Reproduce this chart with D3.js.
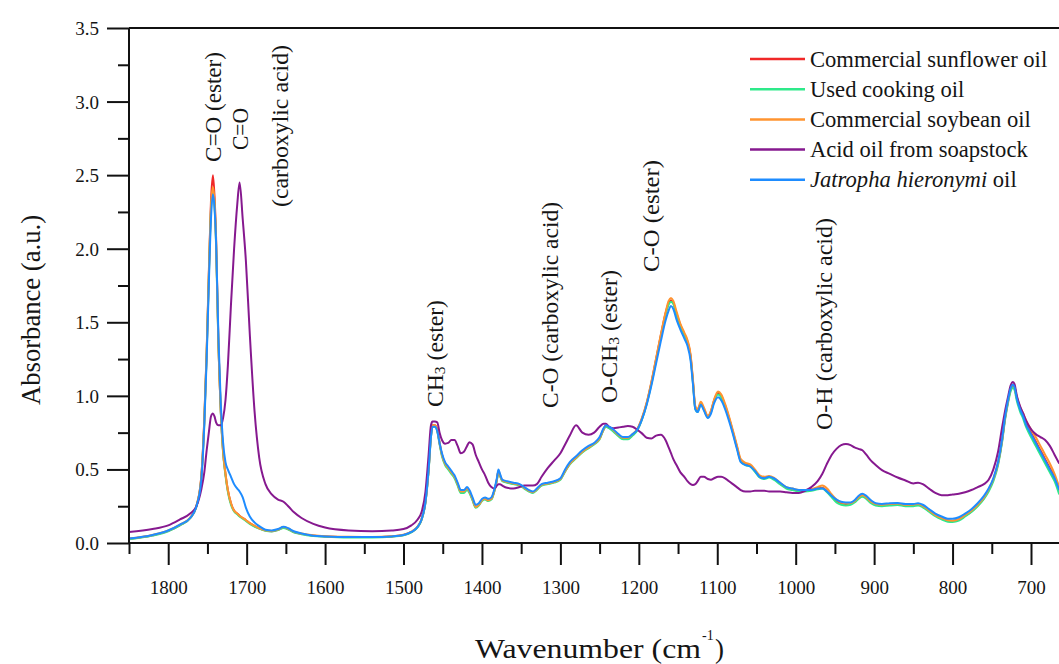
<!DOCTYPE html>
<html><head><meta charset="utf-8">
<script src="https://cdn.jsdelivr.net/npm/d3@7"></script>
<style>
body{margin:0;background:#fff}
svg text{font-family:"Liberation Serif","Times New Roman",serif;fill:#151515}
</style>
</head><body><svg id="chart" width="1059" height="664" font-family="Liberation Serif"></svg>
<script>
// ---------- DATA ----------
const wavenumbers = [
1850,1820,1800,1785,1772,1764,1758,1754,1751,1748,
1745.5,1743,1741,1739,1736,1733,1730,1727,1724,1720,
1716,1712,1709,1705,1701,1696,1690,1684,1676,1668,
1660,1653,1647,1640,1630,1615,1600,1570,1540,1515,
1500,1490,1482,1477,1472,1468,1465,1463,1460,1457,
1454,1451,1447,1443,1439,1435,1431,1427,1423,1419,
1416,1412,1408,1404,1400,1396,1392,1388,1384,1381,
1379,1377,1374,1368,1360,1352,1346,1340,1335,1330,
1324,1316,1308,1300,1294,1288,1280,1272,1264,1257,
1250,1245,1242,1238,1232,1226,1220,1214,1208,1202,
1196,1190,1184,1178,1172,1166,1162,1159,1156,1152,
1147,1142,1138,1134,1131,1128,1125,1121,1117,1112,
1108,1104,1099,1095,1090,1085,1080,1075,1070,1064,
1058,1052,1046,1040,1034,1028,1020,1012,1004,996,
988,980,972,966,960,954,948,942,936,930,
925,920,915,910,904,898,890,880,870,860,
850,844,838,830,822,814,806,800,792,784,
776,768,760,754,748,742,737,733,729,726,
723,721,718,714,710,706,702,698,694,688,
682,676,670,664];

const sunflower = [
.028,.052,.082,.122,.170,.250,.44,.84,1.30,1.88,
2.32,2.50,2.36,2.08,1.36,.90,.62,.47,.36,.27,
.22,.20,.185,.17,.155,.135,.115,.10,.085,.08,
.09,.105,.095,.075,.062,.05,.045,.04,.04,.045,
.055,.075,.11,.16,.28,.50,.73,.80,.80,.77,
.68,.60,.54,.51,.48,.45,.40,.35,.35,.37,
.35,.295,.245,.26,.29,.30,.29,.30,.36,.43,
.49,.46,.425,.415,.405,.395,.375,.355,.345,.365,
.395,.405,.415,.435,.49,.54,.58,.62,.65,.675,
.71,.77,.795,.785,.76,.73,.71,.71,.735,.77,
.845,.95,1.09,1.25,1.41,1.56,1.63,1.65,1.63,1.56,
1.48,1.42,1.37,1.27,1.10,.92,.90,.95,.91,.86,
.895,.97,1.02,1.00,.935,.85,.755,.655,.56,.535,
.525,.49,.45,.44,.45,.435,.405,.375,.365,.355,
.355,.36,.37,.375,.35,.315,.285,.27,.265,.27,
.285,.31,.325,.31,.28,.265,.26,.265,.265,.26,
.26,.263,.25,.22,.19,.168,.153,.15,.16,.185,
.215,.255,.305,.36,.43,.54,.69,.85,.97,1.045,
1.07,1.055,.985,.915,.865,.81,.77,.73,.69,.63,
.57,.51,.45,.36];

const usedCooking = [
.025,.050,.080,.120,.168,.250,.43,.82,1.28,1.85,
2.26,2.40,2.30,2.03,1.34,.89,.61,.46,.35,.26,
.215,.195,.18,.165,.15,.13,.112,.098,.083,.078,
.088,.102,.092,.073,.06,.048,.043,.038,.038,.043,
.053,.072,.107,.157,.275,.49,.72,.79,.79,.76,
.67,.59,.53,.50,.47,.44,.39,.34,.34,.36,
.34,.29,.24,.255,.285,.295,.285,.295,.355,.425,
.485,.455,.42,.41,.40,.39,.37,.35,.34,.36,
.39,.40,.41,.43,.485,.535,.575,.615,.645,.67,
.705,.77,.79,.78,.755,.725,.705,.705,.73,.765,
.84,.945,1.08,1.24,1.40,1.55,1.62,1.64,1.625,1.555,
1.475,1.415,1.365,1.26,1.09,.91,.89,.945,.905,.855,
.89,.965,1.01,.99,.925,.845,.75,.65,.555,.53,
.52,.485,.445,.435,.445,.43,.40,.37,.36,.35,
.35,.355,.365,.37,.345,.31,.275,.26,.255,.26,
.275,.30,.315,.30,.27,.255,.25,.255,.258,.25,
.25,.255,.243,.213,.182,.16,.145,.143,.152,.18,
.21,.25,.30,.35,.42,.53,.68,.84,.96,1.03,
1.055,1.04,.965,.895,.845,.785,.74,.70,.66,.60,
.54,.48,.42,.33];

const soybean = [
.030,.055,.085,.125,.172,.255,.44,.83,1.29,1.86,
2.28,2.42,2.32,2.05,1.35,.90,.62,.47,.36,.27,
.22,.20,.185,.17,.155,.135,.118,.10,.087,.082,
.092,.108,.097,.077,.064,.052,.046,.042,.041,.046,
.056,.077,.112,.162,.285,.50,.73,.80,.80,.77,
.68,.60,.54,.51,.48,.45,.40,.35,.35,.37,
.35,.30,.245,.26,.29,.30,.29,.30,.36,.43,
.49,.46,.425,.415,.405,.395,.375,.355,.345,.365,
.395,.405,.415,.435,.49,.54,.58,.62,.65,.675,
.71,.775,.80,.79,.765,.735,.715,.715,.74,.775,
.85,.955,1.095,1.255,1.415,1.565,1.645,1.665,1.645,1.575,
1.49,1.43,1.38,1.28,1.11,.93,.91,.96,.92,.865,
.90,.975,1.03,1.01,.945,.86,.765,.665,.57,.545,
.535,.50,.46,.45,.455,.445,.41,.38,.37,.36,
.36,.365,.38,.39,.37,.33,.295,.275,.27,.272,
.285,.31,.325,.31,.28,.265,.26,.265,.268,.26,
.262,.265,.252,.222,.19,.17,.155,.152,.162,.19,
.22,.26,.31,.365,.435,.545,.695,.855,.975,1.05,
1.075,1.06,.99,.925,.88,.83,.79,.755,.72,.66,
.60,.54,.47,.38];

const acidOil = [
.075,.095,.12,.16,.20,.25,.36,.48,.63,.76,
.86,.88,.86,.82,.80,.80,.85,.97,1.20,1.62,
2.00,2.30,2.45,2.20,1.92,1.42,.90,.58,.40,.33,
.295,.28,.25,.21,.17,.13,.105,.085,.08,.085,
.095,.12,.16,.21,.35,.60,.80,.825,.825,.82,
.75,.70,.675,.68,.70,.70,.66,.61,.62,.66,
.685,.67,.60,.55,.50,.46,.41,.38,.37,.39,
.40,.40,.39,.375,.37,.38,.39,.39,.39,.40,
.45,.51,.56,.61,.67,.73,.80,.75,.735,.75,
.79,.81,.81,.79,.78,.785,.79,.795,.79,.77,
.745,.715,.71,.73,.735,.70,.65,.61,.57,.53,
.48,.45,.42,.40,.395,.40,.42,.45,.45,.435,
.43,.44,.45,.45,.44,.42,.40,.38,.36,.35,
.35,.355,.355,.355,.35,.35,.35,.345,.34,.34,
.355,.38,.42,.47,.54,.60,.64,.665,.672,.665,
.65,.64,.63,.60,.56,.53,.495,.47,.445,.425,
.405,.41,.40,.37,.34,.325,.325,.33,.335,.345,
.36,.38,.40,.43,.50,.62,.78,.90,1.00,1.07,
1.095,1.08,1.00,.93,.88,.83,.79,.76,.74,.72,
.70,.66,.60,.54];

const jatropha = [
.030,.055,.085,.125,.170,.250,.42,.80,1.25,1.80,
2.20,2.37,2.28,2.05,1.40,.95,.68,.55,.50,.45,
.40,.37,.35,.31,.24,.18,.14,.115,.09,.085,
.095,.11,.10,.08,.065,.05,.045,.04,.04,.045,
.055,.075,.11,.16,.28,.50,.72,.79,.79,.76,
.68,.61,.55,.52,.49,.46,.41,.36,.36,.38,
.36,.31,.26,.27,.30,.31,.30,.31,.37,.44,
.50,.47,.43,.42,.41,.40,.38,.36,.35,.37,
.40,.41,.42,.44,.50,.55,.59,.63,.66,.68,
.72,.78,.80,.79,.77,.74,.72,.72,.74,.77,
.84,.94,1.07,1.22,1.37,1.51,1.58,1.61,1.59,1.52,
1.45,1.39,1.34,1.24,1.08,.91,.89,.94,.90,.85,
.88,.95,.99,.97,.91,.83,.74,.64,.55,.53,
.52,.49,.45,.44,.45,.44,.41,.38,.37,.36,
.36,.36,.37,.37,.35,.32,.295,.28,.275,.275,
.29,.32,.335,.32,.29,.27,.265,.27,.272,.265,
.265,.27,.26,.23,.20,.18,.165,.165,.175,.20,
.23,.27,.32,.37,.44,.55,.70,.86,.98,1.05,
1.075,1.06,.98,.91,.86,.80,.76,.72,.68,.62,
.56,.50,.44,.36];

const seriesNames = ["Commercial sunflower oil","Used cooking oil","Commercial soybean oil","Acid oil from soapstock","Jatropha hieronymi oil"];
const seriesColors = ["#f02828","#2ee98a","#ff9430","#86198f","#1e8cff"];
const seriesValues = [sunflower, usedCooking, soybean, acidOil, jatropha];

const xMajorTicks = [1800,1700,1600,1500,1400,1300,1200,1100,1000,900,800,700];
const xMinorTicks = [1850,1750,1650,1550,1450,1350,1250,1150,1050,950,850,750];
const yMajorTicks = [0,0.5,1.0,1.5,2.0,2.5,3.0,3.5];
const yMinorTicks = [0.25,0.75,1.25,1.75,2.25,2.75,3.25];

const annotations = [
  {wn:1743, bottom:162, len:110, parts:[["C=O (ester)"]]},
  {wn:1709, bottom:150, len:42,  parts:[["C=O"]]},
  {wn:1658, bottom:207, len:162, parts:[["(carboxylic acid)"]]},
  {wn:1460, bottom:407, len:107, parts:[["CH"],["3","sub"],[" (ester)"]]},
  {wn:1313, bottom:408, len:206, parts:[["C-O (carboxylic acid)"]]},
  {wn:1238, bottom:403, len:133, parts:[["O-CH"],["3","sub"],[" (ester)"]]},
  {wn:1185, bottom:272, len:112, parts:[["C-O (ester)"]]},
  {wn:964,  bottom:430, len:212, parts:[["O-H (carboxylic acid)"]]}
];

// ---------- LAYOUT ----------
const FONT = '"Liberation Serif","Times New Roman",serif';
const X0=129, X1=1059, Y0=543, Y1=28;
const svg = d3.select("#chart");
svg.append("rect").attr("width",1059).attr("height",664).attr("fill","#fff");
const x = d3.scaleLinear().domain([1850, 664.3]).range([X0, X1]);
const y = d3.scaleLinear().domain([0, 3.5]).range([Y0, Y1]);

svg.append("defs").append("clipPath").attr("id","clip")
  .append("rect").attr("x",X0).attr("y",0).attr("width",X1-X0).attr("height",Y0);

// curves
const line = d3.line().x(d=>x(d[0])).y(d=>y(d[1])).curve(d3.curveMonotoneX);
const gLines = svg.append("g").attr("clip-path","url(#clip)");
seriesValues.forEach((vals,i)=>{
  gLines.append("path")
    .datum(wavenumbers.map((w,k)=>[w,vals[k]]))
    .attr("d",line).attr("fill","none")
    .attr("stroke",seriesColors[i]).attr("stroke-width",2)
    .attr("stroke-linejoin","round");
});

// axes
const axisColor="#111";
function styleAxis(g){
  g.select(".domain").remove();
  g.attr("font-family",FONT);
  g.selectAll(".tick line").attr("stroke",axisColor).attr("stroke-width",2);
}
const gxMaj = svg.append("g").attr("transform",`translate(0,${Y0})`)
  .call(d3.axisBottom(x).tickValues(xMajorTicks).tickSize(22).tickSizeOuter(0).tickFormat(d3.format("d")));
styleAxis(gxMaj);
gxMaj.selectAll("text").attr("y",51).attr("dy",0).style("font-size","19px").attr("fill","#151515");
const gxMin = svg.append("g").attr("transform",`translate(0,${Y0})`)
  .call(d3.axisBottom(x).tickValues(xMinorTicks).tickSize(11).tickSizeOuter(0).tickFormat(""));
styleAxis(gxMin);

const gyMaj = svg.append("g").attr("transform",`translate(${X0},0)`)
  .call(d3.axisLeft(y).tickValues(yMajorTicks).tickSize(22).tickSizeOuter(0).tickFormat(d3.format(".1f")));
styleAxis(gyMaj);
gyMaj.selectAll("text").attr("x",-30).attr("dy","0.34em").style("font-size","19px").attr("fill","#151515");
const gyMin = svg.append("g").attr("transform",`translate(${X0},0)`)
  .call(d3.axisLeft(y).tickValues(yMinorTicks).tickSize(11).tickSizeOuter(0).tickFormat(""));
styleAxis(gyMin);

// axis lines
svg.append("line").attr("x1",X0).attr("x2",X1).attr("y1",Y0).attr("y2",Y0).attr("stroke",axisColor).attr("stroke-width",2);
svg.append("line").attr("x1",X0).attr("x2",X0).attr("y1",Y1).attr("y2",Y0).attr("stroke",axisColor).attr("stroke-width",2);
svg.append("line").attr("x1",X0).attr("x2",X1).attr("y1",Y1).attr("y2",Y1).attr("stroke",axisColor).attr("stroke-width",2);

// axis titles
svg.append("text").attr("x",475).attr("y",658).style("font-size","27px")
  .attr("textLength",226).attr("lengthAdjust","spacingAndGlyphs").text("Wavenumber (cm");
svg.append("text").attr("x",702).attr("y",640).style("font-size","14px").text("-1");
svg.append("text").attr("x",715).attr("y",658).style("font-size","27px").text(")");

svg.append("text").attr("transform","translate(31,310) rotate(-90)")
  .attr("text-anchor","middle").attr("dominant-baseline","central")
  .style("font-size","27px").attr("textLength",190).attr("lengthAdjust","spacingAndGlyphs")
  .text("Absorbance (a.u.)");

// annotations
annotations.forEach(a=>{
  const t = svg.append("text")
    .attr("transform",`translate(${x(a.wn)},${a.bottom}) rotate(-90)`)
    .attr("dominant-baseline","central")
    .attr("textLength",a.len).attr("lengthAdjust","spacingAndGlyphs")
    .style("font-size","23px");
  let shifted=false;
  a.parts.forEach(p=>{
    const ts = t.append("tspan").text(p[0]);
    if(p[1]==="sub"){ ts.attr("dy","0.32em").style("font-size","15px"); shifted=true; }
    else if(shifted){ ts.attr("dy","-0.21em"); shifted=false; }
  });
});

// legend
const legY0 = 59, legStep = 30.2;
seriesNames.forEach((name,i)=>{
  const yy = legY0 + i*legStep;
  svg.append("line").attr("x1",750).attr("x2",805).attr("y1",yy).attr("y2",yy)
    .attr("stroke",seriesColors[i]).attr("stroke-width",2.5);
  const t = svg.append("text").attr("x",810).attr("y",yy+7.5).style("font-size","22.6px");
  if(name.startsWith("Jatropha")){
    t.append("tspan").style("font-style","italic").text("Jatropha hieronymi");
    t.append("tspan").text(" oil");
  } else t.text(name);
});
</script>
</body></html>
